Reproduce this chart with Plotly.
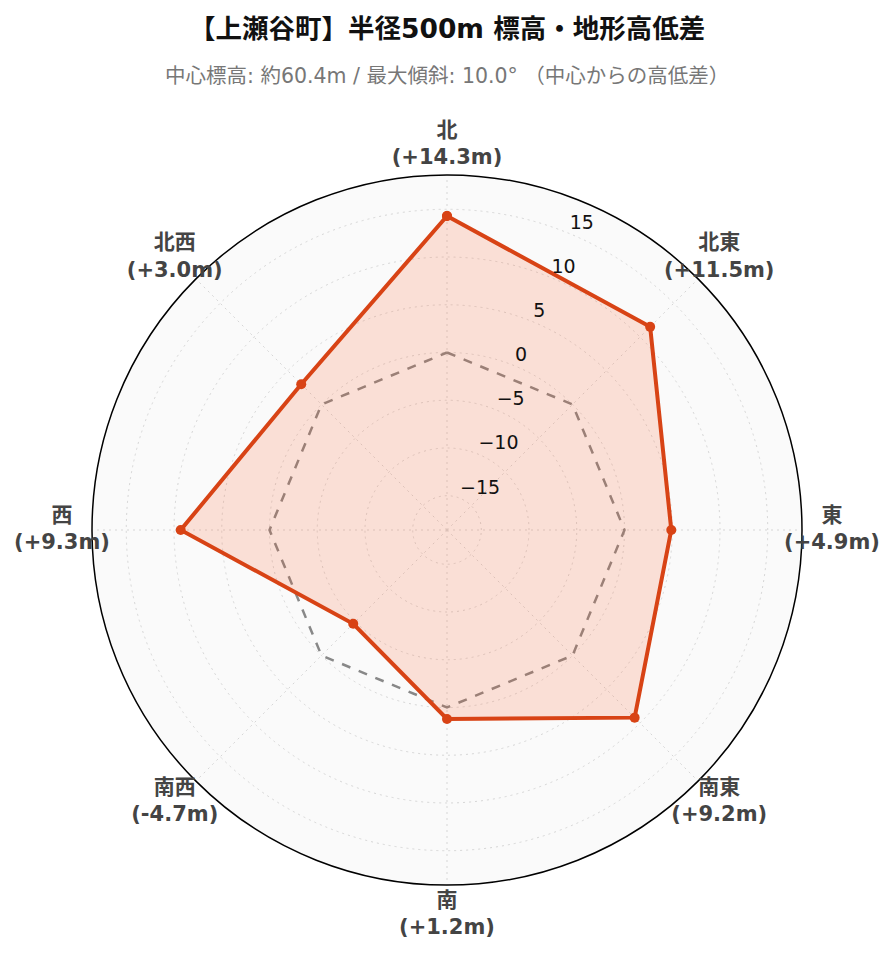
import plotly.graph_objects as go

directions = ["北", "北東", "東", "南東", "南", "南西", "西", "北西"]
diffs = [14.3, 11.5, 4.9, 9.2, 1.2, -4.7, 9.3, 3.0]
zero_ref = [0, 0, 0, 0, 0, 0, 0, 0]
radial_ticks = [-15, -10, -5, 0, 5, 10, 15]

title_text = "【上瀬谷町】半径500m 標高・地形高低差"
subtitle_text = "中心標高: 約60.4m / 最大傾斜: 10.0° （中心からの高低差）"

FONT = "DejaVu Sans, Noto Sans CJK JP, sans-serif"
W, H = 893, 962

# angular position of each direction (clockwise from north)
theta = [i * 360 / len(directions) for i in range(len(directions))]
lim = max(abs(v) for v in diffs) * 1.3
radial_label_theta = 360 / len(directions) / 2  # between 北 and 北東


def dom(cx, cy, rad):
    return dict(x=[(cx - rad) / W, (cx + rad) / W],
                y=[(H - cy - rad) / H, (H - cy + rad) / H])


CX, CY = 439, 522

fig = go.Figure()
fig.add_trace(go.Scatterpolar(
    r=zero_ref + [zero_ref[0]], theta=theta + [theta[0]], mode="lines",
    line=dict(color="#888888", width=2.5, dash="dash"),
    hoverinfo="skip", showlegend=False, subplot="polar"))
fig.add_trace(go.Scatterpolar(
    r=diffs + [diffs[0]], theta=theta + [theta[0]], mode="lines+markers",
    fill="toself", fillcolor="rgba(255,87,34,0.16)",
    line=dict(color="#d84315", width=4),
    marker=dict(size=10, color="#d84315"),
    showlegend=False, subplot="polar"))
# radial tick labels
fig.add_trace(go.Scatterpolar(
    r=radial_ticks, theta=[radial_label_theta] * len(radial_ticks), mode="text",
    text=[str(v).replace("-", "\u2212") for v in radial_ticks],
    textposition="top right",
    textfont=dict(size=19, color="#111", family=FONT),
    hoverinfo="skip", showlegend=False, subplot="polar"))
# direction labels on an outer, invisible polar frame
fig.add_trace(go.Scatterpolar(
    r=[1] * len(directions), theta=theta, mode="text",
    text=[f"<b>{d}<br>({v:+.1f}m)</b>" for d, v in zip(directions, diffs)],
    textposition="middle center", cliponaxis=False,
    textfont=dict(size=21, color="#444", family=FONT),
    hoverinfo="skip", showlegend=False, subplot="polar2"))

fig.update_layout(
    width=W, height=H,
    paper_bgcolor="white",
    margin=dict(l=0, r=0, t=0, b=0, autoexpand=False),
    font=dict(family=FONT, color="#333"),
    polar=dict(
        domain=dom(CX, CY, 355),
        bgcolor="#fafafa",
        radialaxis=dict(range=[-lim, lim], tickvals=radial_ticks,
                        angle=90 - radial_label_theta, showline=False, ticks="",
                        showticklabels=False,
                        gridcolor="#d6d6d6", griddash="2px,4px"),
        angularaxis=dict(direction="clockwise", rotation=90,
                         tickmode="array", tickvals=theta,
                         showline=True, linecolor="black", linewidth=1.5,
                         gridcolor="#d6d6d6", griddash="2px,4px", ticks="",
                         showticklabels=False)),
    polar2=dict(
        domain=dom(CX, CY, 385),
        bgcolor="rgba(0,0,0,0)",
        radialaxis=dict(range=[0, 1], visible=False),
        angularaxis=dict(direction="clockwise", rotation=90, visible=False)),
)
fig.add_annotation(text=f"<b>{title_text}</b>", x=CX / W, y=1 - 20 / H,
                   xref="paper", yref="paper", yanchor="middle", showarrow=False,
                   font=dict(size=26.5, color="#111", family=FONT))
fig.add_annotation(text=subtitle_text, x=CX / W, y=1 - 68 / H,
                   xref="paper", yref="paper", yanchor="middle", showarrow=False,
                   font=dict(size=20.5, color="#777", family=FONT))

fig.write_html("out.html")
